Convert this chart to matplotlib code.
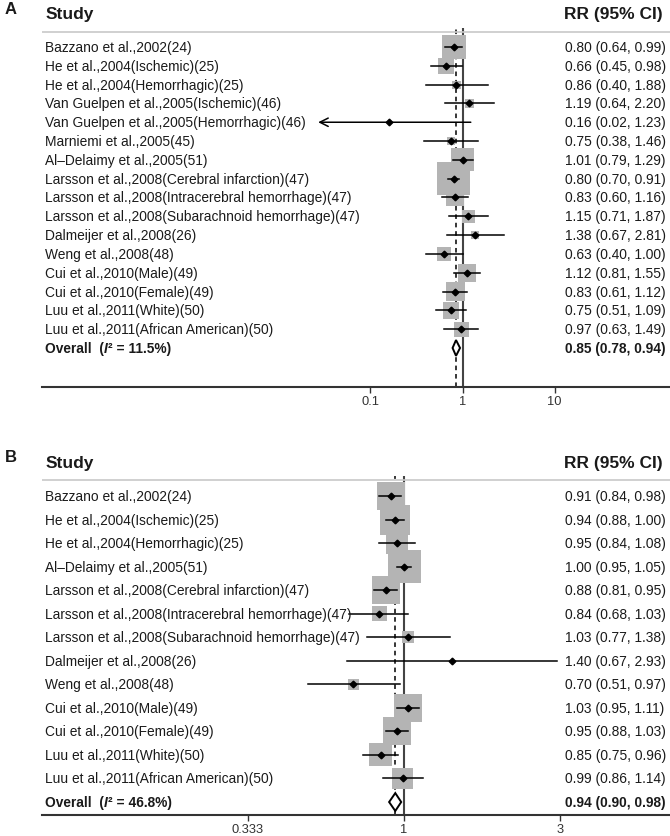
import matplotlib
matplotlib.use("Agg")
import matplotlib.pyplot as plt
import numpy as np
from matplotlib.patches import Polygon
from matplotlib.ticker import NullLocator

plt.rcParams['font.family'] = ['Liberation Sans', 'DejaVu Sans']

# ---------------- panel A data ----------------
studiesA = ["Bazzano et al.,2002(24)",
            "He et al.,2004(Ischemic)(25)",
            "He et al.,2004(Hemorrhagic)(25)",
            "Van Guelpen et al.,2005(Ischemic)(46)",
            "Van Guelpen et al.,2005(Hemorrhagic)(46)",
            "Marniemi et al.,2005(45)",
            "Al\u2013Delaimy et al.,2005(51)",
            "Larsson et al.,2008(Cerebral infarction)(47)",
            "Larsson et al.,2008(Intracerebral hemorrhage)(47)",
            "Larsson et al.,2008(Subarachnoid hemorrhage)(47)",
            "Dalmeijer et al.,2008(26)",
            "Weng et al.,2008(48)",
            "Cui et al.,2010(Male)(49)",
            "Cui et al.,2010(Female)(49)",
            "Luu et al.,2011(White)(50)",
            "Luu et al.,2011(African American)(50)"]
rrA = [0.80, 0.66, 0.86, 1.19, 0.16, 0.75, 1.01, 0.80, 0.83, 1.15, 1.38, 0.63, 1.12, 0.83, 0.75, 0.97]
loA = [0.64, 0.45, 0.40, 0.64, 0.02, 0.38, 0.79, 0.70, 0.60, 0.71, 0.67, 0.40, 0.81, 0.61, 0.51, 0.63]
hiA = [0.99, 0.98, 1.88, 2.20, 1.23, 1.46, 1.29, 0.91, 1.16, 1.87, 2.81, 1.00, 1.55, 1.12, 1.09, 1.49]
weightA = [12.4, 5.5, 1.4, 2.1, 0.2, 1.7, 11.4, 23.4, 7.0, 3.6, 1.4, 4.2, 7.0, 7.8, 6.2, 4.8]
overallA = (0.85, 0.78, 0.94)
i2A = "11.5%"
ticksA = [0.1, 1, 10]
tick_labelsA = ["0.1", "1", "10"]

# ---------------- panel B data ----------------
studiesB = ["Bazzano et al.,2002(24)",
            "He et al.,2004(Ischemic)(25)",
            "He et al.,2004(Hemorrhagic)(25)",
            "Al\u2013Delaimy et al.,2005(51)",
            "Larsson et al.,2008(Cerebral infarction)(47)",
            "Larsson et al.,2008(Intracerebral hemorrhage)(47)",
            "Larsson et al.,2008(Subarachnoid hemorrhage)(47)",
            "Dalmeijer et al.,2008(26)",
            "Weng et al.,2008(48)",
            "Cui et al.,2010(Male)(49)",
            "Cui et al.,2010(Female)(49)",
            "Luu et al.,2011(White)(50)",
            "Luu et al.,2011(African American)(50)"]
rrB = [0.91, 0.94, 0.95, 1.00, 0.88, 0.84, 1.03, 1.40, 0.70, 1.03, 0.95, 0.85, 0.99]
loB = [0.84, 0.88, 0.84, 0.95, 0.81, 0.68, 0.77, 0.67, 0.51, 0.95, 0.88, 0.75, 0.86]
hiB = [0.98, 1.00, 1.08, 1.05, 0.95, 1.03, 1.38, 2.93, 0.97, 1.11, 1.03, 0.96, 1.14]
weightB = [11.1, 12.7, 6.8, 15.4, 11.1, 3.2, 2.0, 0.1, 1.7, 11.1, 11.1, 7.5, 6.2]
overallB = (0.94, 0.90, 0.98)
i2B = "46.8%"
ticksB = [0.333, 1, 3]
tick_labelsB = ["0.333", "1", "3"]

W, H = 670, 837
fig = plt.figure(figsize=(W / 100, H / 100), dpi=100)

TXT = '#1a1a1a'
BOX = '#b4b4b4'
FS = 9.9


def forest(rect_px, row0, step, sep_px, xlim, studies, rr, lo, hi, weight, overall,
           i2, ticks, tick_labels, box_k, diamond_h, clip_lo=None):
    # rect_px = (top, bottom) in pixels of the plotting area
    top, bottom = rect_px
    ax = fig.add_axes([42 / W, 1 - bottom / H, 1 - 42 / W, (bottom - top) / H])
    ax.set_xscale('log')
    ax.set_xlim(xlim)
    ax.set_ylim((bottom - row0) / step, (top - row0) / step)
    n = len(studies)
    y = np.arange(n)

    # separator under the header
    ax.axhline((sep_px - row0) / step, color='#c8c8c8', lw=1.2)
    # null line and overall dashed line
    ax.axvline(1, color='#444444', lw=1.5, zorder=1)
    ax.axvline(overall[0], color='black', lw=1.1, ls=(0, (3, 2.5)), zorder=1)

    # weight boxes
    side_pt = box_k * np.sqrt(weight) * 0.72
    ax.scatter(rr, y, s=side_pt ** 2, marker='s', color=BOX, lw=0, zorder=2)

    # confidence intervals
    for i in range(n):
        if clip_lo is not None and lo[i] < clip_lo:
            ax.annotate('', xy=(clip_lo, y[i]), xytext=(hi[i], y[i]),
                        arrowprops=dict(arrowstyle='->,head_length=0.6,head_width=0.3',
                                        lw=1.1, color='black', shrinkA=0, shrinkB=0),
                        zorder=3)
        else:
            ax.plot([lo[i], hi[i]], [y[i], y[i]], color='black', lw=1.1, zorder=3)
    ax.plot(rr, y, 'D', color='black', ms=3.4, zorder=4)

    # overall diamond
    yo = n
    est, olo, ohi = overall
    ax.add_patch(Polygon([(olo, yo), (est, yo - diamond_h), (ohi, yo), (est, yo + diamond_h)],
                         closed=True, facecolor='white', edgecolor='black', lw=1.4, zorder=5))

    # text columns
    tr = ax.get_yaxis_transform()
    for i in range(n):
        ax.text(0.005, y[i], studies[i], transform=tr, va='center', ha='left',
                fontsize=FS, color=TXT)
        ax.text(0.833, y[i], "%.2f (%.2f, %.2f)" % (rr[i], lo[i], hi[i]), transform=tr,
                va='center', ha='left', fontsize=FS, color=TXT)
    t = ax.text(0.005, yo, "Overall  (", transform=tr, va='center', ha='left',
                fontsize=FS, color=TXT, fontweight='bold')
    t = ax.annotate("I", xy=(1, 0), xycoords=t, va='bottom', ha='left',
                    fontsize=FS, color=TXT, fontweight='bold', fontstyle='italic')
    t = ax.annotate("\u00b2 = " + i2 + ")", xy=(1, 0), xycoords=t, va='bottom', ha='left',
                    fontsize=FS, color=TXT, fontweight='bold')
    ax.text(0.833, yo, "%.2f (%.2f, %.2f)" % overall, transform=tr, va='center',
            ha='left', fontsize=FS, color=TXT, fontweight='bold')

    # axis cosmetics
    for s in ['top', 'left', 'right']:
        ax.spines[s].set_visible(False)
    ax.spines['bottom'].set_color('#333333')
    ax.spines['bottom'].set_linewidth(1.5)
    ax.set_yticks([])
    ax.xaxis.set_minor_locator(NullLocator())
    ax.set_xticks(ticks)
    ax.set_xticklabels(tick_labels)
    ax.tick_params(axis='x', direction='out', length=4, width=1, color='#333333',
                   labelsize=9.3, labelcolor='#333333', pad=2)
    return ax


forest((29, 388), 48, 18.81, 33, (10 ** -4.57, 10 ** 2.255), studiesA, rrA, loA, hiA,
       weightA, overallA, i2A, ticksA, tick_labelsA, box_k=6.8, diamond_h=0.42, clip_lo=0.027)
forest((477, 816), 497, 23.54, 481, (10 ** -1.107, 10 ** 0.813), studiesB, rrB, loB, hiB,
       weightB, overallB, i2B, ticksB, tick_labelsB, box_k=8.4, diamond_h=0.38)

# headers
for letter, ypx in [("A", 9), ("B", 458)]:
    fig.text(5 / W, 1 - ypx / H, letter, fontsize=12, fontweight='bold', color=TXT,
             va='center', ha='left')
for ypx in [15, 464]:
    fig.text(46 / W, 1 - ypx / H, "Study", fontsize=12.5, fontweight='bold', color=TXT,
             va='center', ha='left')
    fig.text(564 / W, 1 - ypx / H, "RR (95% CI)", fontsize=12.5, fontweight='bold', color=TXT,
             va='center', ha='left')

fig.savefig("out.png", dpi=100)
